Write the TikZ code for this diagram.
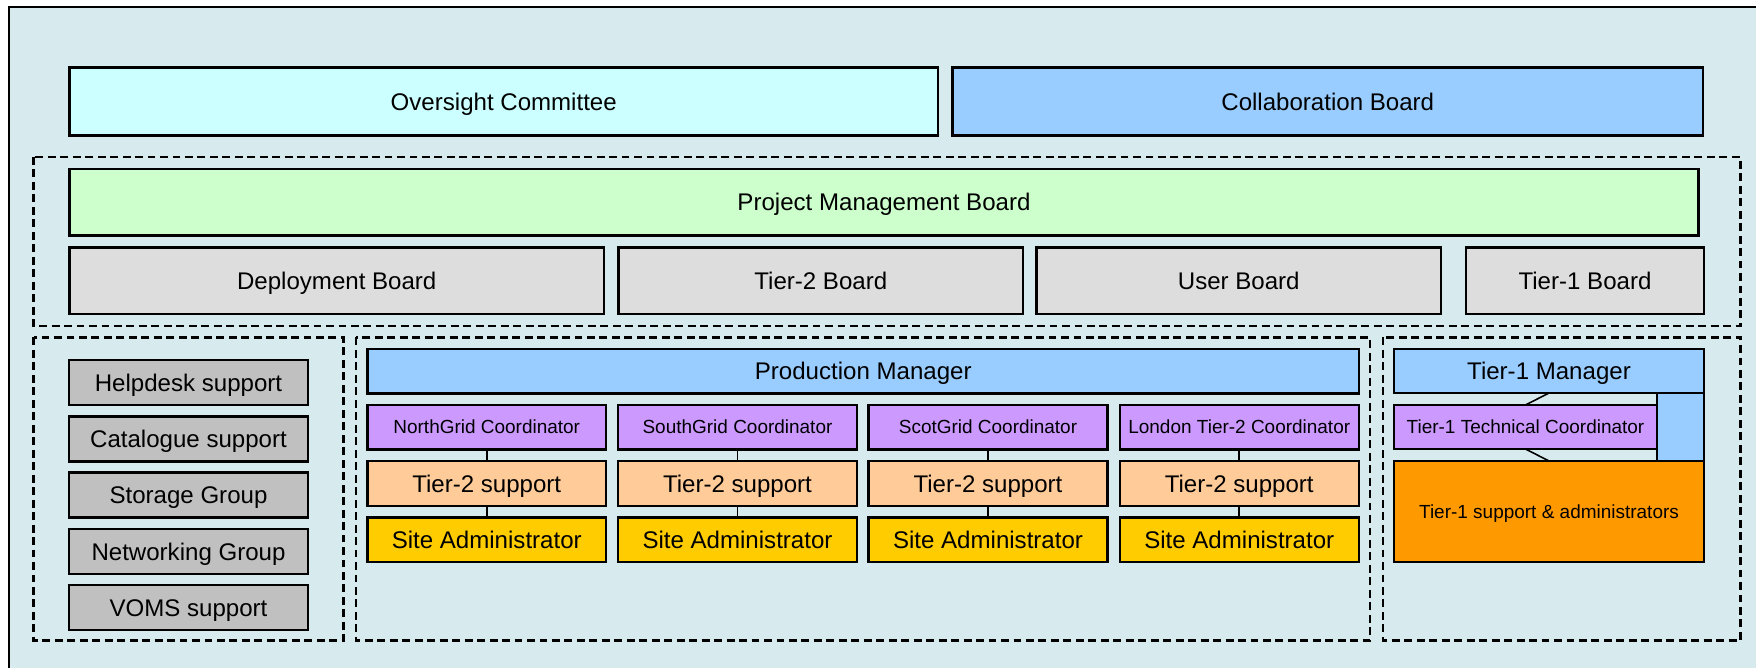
\documentclass[tikz,border=0pt]{standalone}
\usepackage{fontspec}
\setmainfont{Liberation Sans}
\usepackage{xcolor}
\usepackage{tikz}

\definecolor{bgblue}{RGB}{215,235,238}
\definecolor{oversight}{RGB}{204,255,255}
\definecolor{managerblue}{RGB}{153,204,255}
\definecolor{pmbgreen}{RGB}{204,255,204}
\definecolor{boardgray}{RGB}{221,221,221}
\definecolor{groupgray}{RGB}{192,192,192}
\definecolor{coordpurple}{RGB}{204,153,255}
\definecolor{supportpeach}{RGB}{255,204,153}
\definecolor{adminyellow}{RGB}{255,204,0}
\definecolor{tieroneorange}{RGB}{255,153,0}

\begin{document}
\begin{tikzpicture}
                [x=0.02cm, y=-0.02cm,
                 box/.style = {draw, line width=1.4pt, inner sep=0pt, outer sep=0pt, font=\fontsize{13.7}{16}\selectfont, text height=9.9pt, text depth=0pt},
                 small/.style = {box, font=\fontsize{10.8}{13}\selectfont, text height=7.8pt, text depth=0pt},
                 wide/.style = {minimum width=4.78cm, minimum height=0.89cm},
                 group/.style = {draw, line width=1.3pt, dash pattern=on 4.5pt off 2.6pt},
                 link/.style = {draw, line width=0.9pt}]

                \useasboundingbox (0,0) rectangle (1756,668);
                \draw[fill=bgblue, line width=1.4pt] (9,7) rectangle (1790,700);

                % dashed groups
                \draw[group] (33.5,157) rectangle (1740.5,326);
                \draw[group] (33.5,337.5) rectangle (343.5,640.5);
                \draw[group] (356,337.5) rectangle (1370,640.5);
                \draw[group] (1383,337.5) rectangle (1740.5,640.5);

                \node[box, fill=oversight, minimum width=17.37cm, minimum height=1.36cm] (oc) at (503.75,101.5) {Oversight Committee};
                \node[box, fill=managerblue, minimum width=15.01cm, minimum height=1.36cm] (cb) at (1327.75,101.5) {Collaboration Board};

                \node[box, fill=pmbgreen, minimum width=32.58cm, minimum height=1.33cm] (pmb) at (884,202.25) {Project Management Board};
                \node[box, fill=boardgray, minimum width=10.69cm, minimum height=1.33cm] (db) at (336.75,280.75) {Deployment Board};
                \node[box, fill=boardgray, minimum width=8.09cm, minimum height=1.33cm] (t2b) at (820.8,280.75) {Tier-2 Board};
                \node[box, fill=boardgray, minimum width=8.09cm, minimum height=1.33cm] (ub) at (1238.75,280.75) {User Board};
                \node[box, fill=boardgray, minimum width=4.76cm, minimum height=1.33cm] (t1b) at (1585,280.75) {Tier-1 Board};

                \node[box, wide, fill=groupgray, minimum height=0.9cm] (help) at (188.5,382.5) {Helpdesk support};
                \node[box, wide, fill=groupgray, minimum height=0.9cm] (cat) at (188.5,438.8) {Catalogue support};
                \node[box, wide, fill=groupgray, minimum height=0.9cm] (stor) at (188.5,495.1) {Storage Group};
                \node[box, wide, fill=groupgray, minimum height=0.9cm] (net) at (188.5,551.4) {Networking Group};
                \node[box, wide, fill=groupgray, minimum height=0.9cm] (voms) at (188.5,607.7) {VOMS support};

                \node[box, fill=managerblue, minimum width=19.83cm, minimum height=0.886cm] (pm) at (863.25,371.15) {Production Manager};

                \node[small, wide, fill=coordpurple] (ngc) at (486.75,427.15) {NorthGrid Coordinator};
                \node[small, wide, fill=coordpurple] (sgc) at (737.5,427.15) {SouthGrid Coordinator};
                \node[small, wide, fill=coordpurple] (scc) at (988,427.15) {ScotGrid Coordinator};
                \node[small, wide, fill=coordpurple] (lc) at (1239.25,427.15) {London Tier-2 Coordinator};

                \node[box, wide, fill=supportpeach] (ngs) at (486.75,483.5) {Tier-2 support};
                \node[box, wide, fill=supportpeach] (sgs) at (737.5,483.5) {Tier-2 support};
                \node[box, wide, fill=supportpeach] (scs) at (988,483.5) {Tier-2 support};
                \node[box, wide, fill=supportpeach] (ls) at (1239.25,483.5) {Tier-2 support};

                \node[box, wide, fill=adminyellow] (nga) at (486.75,539.65) {Site Administrator};
                \node[box, wide, fill=adminyellow] (sga) at (737.5,539.65) {Site Administrator};
                \node[box, wide, fill=adminyellow] (sca) at (988,539.65) {Site Administrator};
                \node[box, wide, fill=adminyellow] (la) at (1239.25,539.65) {Site Administrator};

                \node[box, fill=managerblue, minimum width=6.2cm, minimum height=0.88cm] (t1m) at (1549,371) {Tier-1 Manager};
                \node[box, fill=managerblue, minimum width=0.94cm, minimum height=1.36cm] (t1strip) at (1680.5,427) {};
                \node[small, fill=coordpurple, minimum width=5.26cm, minimum height=0.88cm] (t1c) at (1525.5,427) {Tier-1 Technical Coordinator};
                \node[small, fill=tieroneorange, minimum width=6.2cm, minimum height=2.02cm] (t1s) at (1549,511.5) {Tier-1 support \& administrators};

                \draw[link] (ngc) to (ngs);
                \draw[link] (ngs) to (nga);
                \draw[link] (sgc) to (sgs);
                \draw[link] (sgs) to (sga);
                \draw[link] (scc) to (scs);
                \draw[link] (scs) to (sca);
                \draw[link] (lc) to (ls);
                \draw[link] (ls) to (la);
                \draw[link] (t1m.south) to (t1c.north);
                \draw[link] (t1c.south) to (t1s.north);
            \end{tikzpicture}
\end{document}
